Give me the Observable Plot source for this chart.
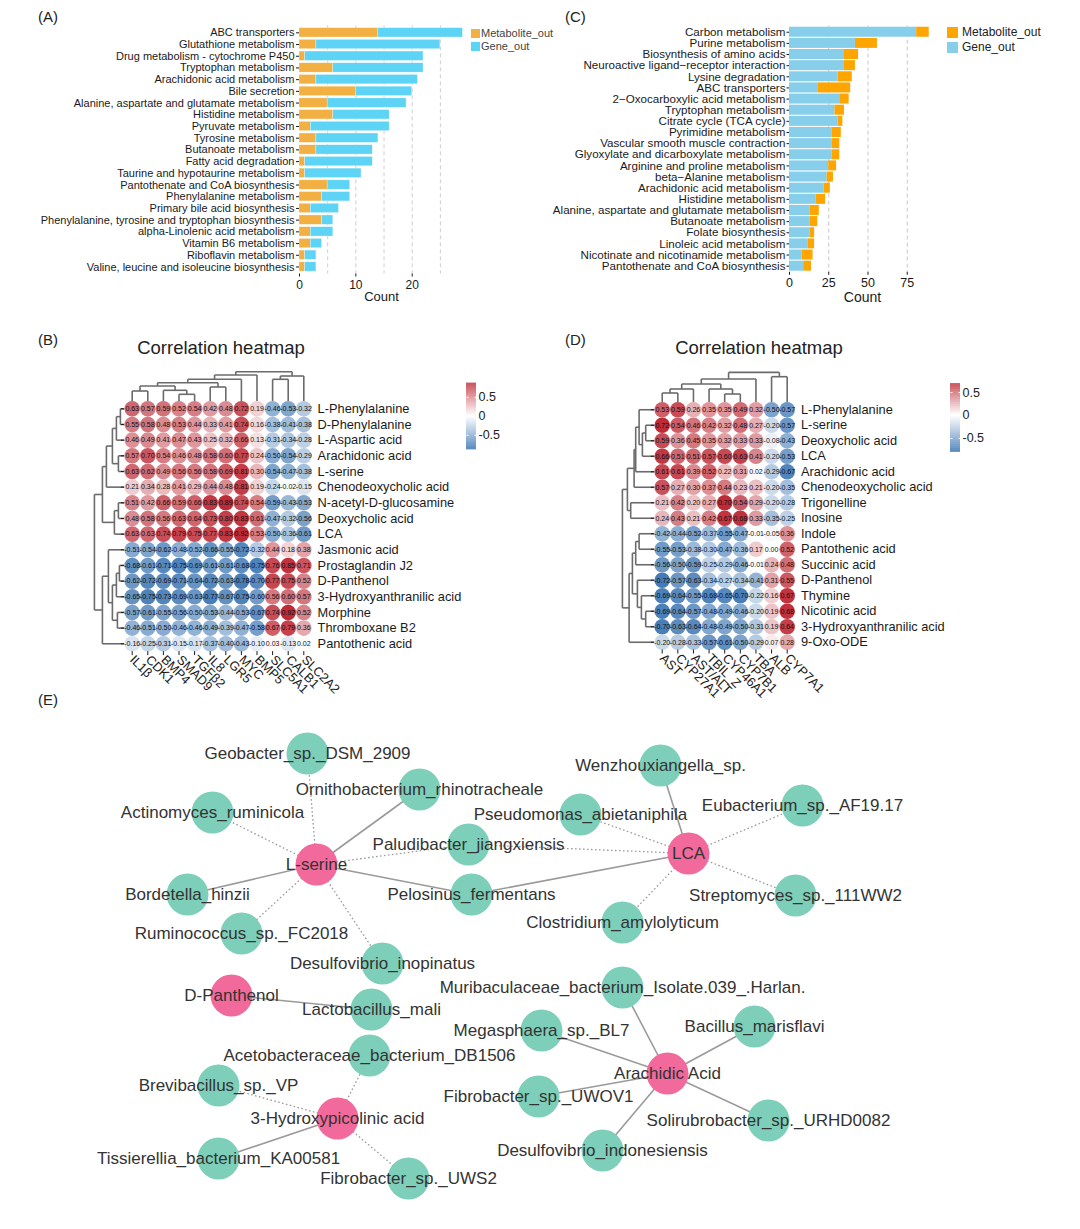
<!DOCTYPE html>
<html><head><meta charset="utf-8">
<script src="https://cdn.jsdelivr.net/npm/d3@7"></script>
<script src="https://cdn.jsdelivr.net/npm/@observablehq/plot@0.6"></script>
<style>
body{margin:0;background:#fff;font-family:"Liberation Sans",Arial,sans-serif;}
#page{position:relative;width:1080px;height:1229px;overflow:hidden;background:#fff;}
.t{position:absolute;white-space:nowrap;color:#222;line-height:1;}
.sw{position:absolute;}
</style></head><body><div id="page"></div>
<script>
// ================= DATA =================
// Panel A
const pathwaysA = ["ABC transporters","Glutathione metabolism","Drug metabolism - cytochrome P450","Tryptophan metabolism","Arachidonic acid metabolism","Bile secretion","Alanine, aspartate and glutamate metabolism","Histidine metabolism","Pyruvate metabolism","Tyrosine metabolism","Butanoate metabolism","Fatty acid degradation","Taurine and hypotaurine metabolism","Pantothenate and CoA biosynthesis","Phenylalanine metabolism","Primary bile acid biosynthesis","Phenylalanine, tyrosine and tryptophan biosynthesis","alpha-Linolenic acid metabolism","Vitamin B6 metabolism","Riboflavin metabolism","Valine, leucine and isoleucine biosynthesis"];
const metaboliteA = [14,3,1,6,3,10,5,6,2,3,3,1,1,5,4,2,4,2,2,1,1];
const geneA       = [15,22,21,16,18,10,14,10,14,11,10,12,10,4,5,5,2,4,2,2,2];
const seriesA = ["Metabolite_out","Gene_out"];
const coloursA = ["#F2B042","#5DD4F6"];

// Panel C
const pathwaysC = ["Carbon metabolism","Purine metabolism","Biosynthesis of amino acids","Neuroactive ligand\u2212receptor interaction","Lysine degradation","ABC transporters","2\u2212Oxocarboxylic acid metabolism","Tryptophan metabolism","Citrate cycle (TCA cycle)","Pyrimidine metabolism","Vascular smooth muscle contraction","Glyoxylate and dicarboxylate metabolism","Arginine and proline metabolism","beta\u2212Alanine metabolism","Arachidonic acid metabolism","Histidine metabolism","Alanine, aspartate and glutamate metabolism","Butanoate metabolism","Folate biosynthesis","Linoleic acid metabolism","Nicotinate and nicotinamide metabolism","Pantothenate and CoA biosynthesis"];
const geneC       = [81,42,35,35,31,18,32,29,31,27,27,27,25,24,22,17,13,13,13,12,8,9];
const metaboliteC = [8,14,9,7,9,21,6,6,3,6,5,5,5,4,4,6,6,5,3,4,7,5];
const seriesC = ["Metabolite_out","Gene_out"];
const coloursC = ["#FFA500","#87CEEB"];

// Panel B heatmap
const rowsB = ["L-Phenylalanine","D-Phenylalanine","L-Aspartic acid","Arachidonic acid","L-serine","Chenodeoxycholic acid","N-acetyl-D-glucosamine","Deoxycholic acid","LCA","Jasmonic acid","Prostaglandin J2","D-Panthenol","3-Hydroxyanthranilic acid","Morphine","Thromboxane B2","Pantothenic acid"];
const colsB = ["IL1\u03b2","CDK1","BMP4","SMAD9","TGF\u03b22","IL8","LGR5","MYC","BMP5","SLC5A1","CALB1","SLC2A2"];
const corrB = [
 [0.63,0.57,0.59,0.52,0.54,0.42,0.48,0.72,0.19,-0.46,-0.53,-0.32],
 [0.55,0.58,0.48,0.53,0.44,0.33,0.41,0.74,0.16,-0.38,-0.41,-0.38],
 [0.46,0.49,0.41,0.47,0.43,0.25,0.32,0.66,0.13,-0.31,-0.34,-0.28],
 [0.57,0.70,0.54,0.46,0.48,0.58,0.60,0.77,0.24,-0.50,-0.54,-0.29],
 [0.63,0.62,0.49,0.56,0.56,0.58,0.69,0.81,0.30,-0.54,-0.47,-0.38],
 [0.21,0.34,0.28,0.41,0.29,0.44,0.48,0.81,0.19,-0.24,-0.02,-0.15],
 [0.51,0.42,0.66,0.59,0.66,0.83,0.89,0.74,0.54,-0.59,-0.43,-0.53],
 [0.48,0.58,0.56,0.63,0.64,0.73,0.80,0.83,0.61,-0.47,-0.32,-0.56],
 [0.63,0.63,0.74,0.79,0.75,0.77,0.83,0.92,0.53,-0.50,-0.36,-0.61],
 [-0.51,-0.54,-0.62,-0.48,-0.52,-0.66,-0.55,-0.72,-0.32,0.44,0.18,0.38],
 [-0.68,-0.61,-0.71,-0.75,-0.69,-0.61,-0.61,-0.68,-0.75,0.76,0.85,0.71],
 [-0.62,-0.72,-0.69,-0.71,-0.64,-0.72,-0.63,-0.78,-0.70,0.77,0.75,0.52],
 [-0.65,-0.75,-0.73,-0.69,-0.63,-0.77,-0.67,-0.75,-0.60,0.56,0.60,0.57],
 [-0.57,-0.61,-0.55,-0.56,-0.50,-0.53,-0.44,-0.53,-0.67,0.74,0.92,0.52],
 [-0.46,-0.51,-0.50,-0.46,-0.46,-0.49,-0.39,-0.47,-0.58,0.67,0.79,0.36],
 [-0.16,-0.25,-0.31,-0.15,-0.17,-0.37,-0.40,-0.43,-0.10,0.03,-0.13,0.02]
];
// dendrogram merges: [left, right, height]; "mK" = K-th merge
const colTreeB = [[0,1,10],[3,4,6.7],[2,"m1",10.7],["m0","m2",15],[5,6,14],["m3","m4",18.3],["m5",7,21.7],["m6",8,26],[9,10,21.7],["m8",11,25],["m7","m9",29.3]];
const rowTreeB = [[0,1,4],["m0",2,8],[3,4,6],["m1","m2",12],["m3",5,18],[6,7,6],["m5",8,10],["m4","m6",22],[10,11,5],["m8",12,8],[13,14,7],["m9","m10",12],[9,"m11",16],["m12",15,22],["m7","m13",30]];

// Panel D heatmap
const rowsD = ["L-Phenylalanine","L-serine","Deoxycholic acid","LCA","Arachidonic acid","Chenodeoxycholic acid","Trigonelline","Inosine","Indole","Pantothenic acid","Succinic acid","D-Panthenol","Thymine","Nicotinic acid","3-Hydroxyanthranilic acid","9-Oxo-ODE"];
const colsD = ["AST","CYP27A1","AST/ALT","TBIL_Z","CYP46A1","CYP7B1","TBA","ALB","CYP7A1"];
const corrD = [
 [0.53,0.59,0.26,0.35,0.35,0.49,0.32,-0.50,-0.57],
 [0.72,0.54,0.46,0.42,0.32,0.48,0.27,-0.20,-0.57],
 [0.59,0.36,0.45,0.35,0.32,0.33,0.33,-0.08,-0.43],
 [0.66,0.51,0.51,0.57,0.60,0.63,0.41,-0.20,-0.53],
 [0.61,0.61,0.39,0.52,0.22,0.31,0.02,-0.29,-0.67],
 [0.57,0.27,0.30,0.37,0.44,0.23,0.21,-0.20,-0.35],
 [0.21,0.42,0.20,0.27,0.70,0.54,0.29,-0.20,-0.28],
 [0.24,0.43,0.21,0.42,0.67,0.68,0.33,-0.35,-0.25],
 [-0.42,-0.44,-0.52,-0.37,-0.55,-0.47,-0.01,-0.05,0.36],
 [-0.55,-0.53,-0.38,-0.30,-0.47,-0.36,0.17,0.00,0.52],
 [-0.56,-0.50,-0.59,-0.25,-0.29,-0.46,-0.01,0.24,0.48],
 [-0.72,-0.57,-0.63,-0.34,-0.27,-0.34,-0.41,0.31,0.55],
 [-0.69,-0.64,-0.55,-0.68,-0.65,-0.70,-0.22,0.16,0.67],
 [-0.69,-0.64,-0.57,-0.48,-0.49,-0.46,-0.20,0.19,0.68],
 [-0.70,-0.63,-0.64,-0.48,-0.49,-0.50,-0.31,0.19,0.64],
 [-0.20,-0.28,-0.33,-0.57,-0.61,-0.50,-0.29,0.07,0.28]
];
const colTreeD = [[0,1,9],["m0",2,13],[4,5,8],[3,"m2",13],["m1","m3",18],["m4",6,23],[7,8,25.3],["m5","m6",29.6]];
const rowTreeD = [[1,2,8.7],["m0",3,12],[0,"m1",15.3],["m2",4,18.7],["m3",5,20.3],[6,7,23.7],["m4","m5",27],[8,9,15.3],["m7",10,18.7],[13,14,8.7],[12,"m9",13],[11,"m10",17],["m8","m11",22],["m12",15,25.3],["m6","m13",32]];

// Panel E network (layout coordinates)
const nodeName = ["L-serine","Geobacter_sp._DSM_2909","Ornithobacterium_rhinotracheale","Actinomyces_ruminicola","Paludibacter_jiangxiensis","Bordetella_hinzii","Pelosinus_fermentans","Ruminococcus_sp._FC2018","Desulfovibrio_inopinatus","LCA","Wenzhouxiangella_sp.","Pseudomonas_abietaniphila","Eubacterium_sp._AF19.17","Streptomyces_sp._111WW2","Clostridium_amylolyticum","D-Panthenol","Lactobacillus_mali","3-Hydroxypicolinic acid","Acetobacteraceae_bacterium_DB1506","Brevibacillus_sp._VP","Tissierellia_bacterium_KA00581","Fibrobacter_sp._UWS2","Arachidic Acid","Muribaculaceae_bacterium_Isolate.039_.Harlan.","Megasphaera_sp._BL7","Bacillus_marisflavi","Fibrobacter_sp._UWOV1","Solirubrobacter_sp._URHD0082","Desulfovibrio_indonesiensis"];
const nodeKind = ["metabolite","microbe","microbe","microbe","microbe","microbe","microbe","microbe","microbe","metabolite","microbe","microbe","microbe","microbe","microbe","metabolite","microbe","metabolite","microbe","microbe","microbe","microbe","metabolite","microbe","microbe","microbe","microbe","microbe","microbe"];
const nodeX = [316,307,419,212,468,187,471,241,382,688,660,580,802,795,622,231,371,337,369,218,218,408,667,622,541,754,538,768,602];
const nodeY = [864,753,789,812,844,894,894,933,963,853,765,814,805,895,922,995,1009,1118,1055,1085,1158,1178,1073,987,1030,1026,1096,1120,1150];
const edgeFrom = ["L-serine","L-serine","L-serine","L-serine","L-serine","L-serine","L-serine","L-serine","LCA","LCA","LCA","LCA","LCA","LCA","LCA","D-Panthenol","3-Hydroxypicolinic acid","3-Hydroxypicolinic acid","3-Hydroxypicolinic acid","3-Hydroxypicolinic acid","Arachidic Acid","Arachidic Acid","Arachidic Acid","Arachidic Acid","Arachidic Acid","Arachidic Acid"];
const edgeTo = ["Geobacter_sp._DSM_2909","Ornithobacterium_rhinotracheale","Actinomyces_ruminicola","Paludibacter_jiangxiensis","Bordetella_hinzii","Pelosinus_fermentans","Ruminococcus_sp._FC2018","Desulfovibrio_inopinatus","Wenzhouxiangella_sp.","Pseudomonas_abietaniphila","Eubacterium_sp._AF19.17","Paludibacter_jiangxiensis","Pelosinus_fermentans","Streptomyces_sp._111WW2","Clostridium_amylolyticum","Lactobacillus_mali","Acetobacteraceae_bacterium_DB1506","Brevibacillus_sp._VP","Tissierellia_bacterium_KA00581","Fibrobacter_sp._UWS2","Muribaculaceae_bacterium_Isolate.039_.Harlan.","Megasphaera_sp._BL7","Bacillus_marisflavi","Fibrobacter_sp._UWOV1","Solirubrobacter_sp._URHD0082","Desulfovibrio_indonesiensis"];
const edgeSign = ["neg","pos","neg","neg","pos","pos","neg","neg","pos","neg","neg","neg","pos","neg","neg","pos","neg","neg","pos","neg","pos","pos","pos","pos","pos","pos"];

// ================= DRAWING =================
const W = 1080, H = 1229;
const page = document.getElementById("page");
const FONT = "'Liberation Sans', Arial, Helvetica, sans-serif";
const baseStyle = `position:absolute;left:0;top:0;background:transparent;font-family:${FONT};color:#1a1a1a;overflow:visible;`;
function add(svg){ page.appendChild(svg); }
function text(str, x, y, size, opts={}) {
  const d = document.createElement("div");
  d.className = "t"; d.textContent = str;
  d.style.fontSize = size + "px"; d.style.top = y + "px";
  d.style.left = x + "px";
  if (opts.center) d.style.transform = "translateX(-50%)";
  if (opts.color) d.style.color = opts.color;
  page.appendChild(d);
}
function swatch(x, y, w, h, c) {
  const d = document.createElement("div");
  d.className = "sw"; Object.assign(d.style, {left:x+"px", top:y+"px", width:w+"px", height:h+"px", background:c});
  page.appendChild(d);
}

// ---- Panel A ----
const dataA = pathwaysA.flatMap((p,i)=>[{p, s:seriesA[0], n:metaboliteA[i]},{p, s:seriesA[1], n:geneA[i]}]);
add(Plot.plot({
  width:W, height:H, style: baseStyle,
  marginLeft:299, marginRight:W-463, marginTop:25.3, marginBottom:H-273.5,
  x:{domain:[0,29.1]},
  y:{domain:pathwaysA, padding:0.2, round:false},
  color:{domain:seriesA, range:coloursA},
  marks:[
    Plot.ruleX([5,10,15,20,25], {stroke:"#cfcfcf", strokeDasharray:"4,3"}),
    Plot.barX(dataA, {y:"p", x:"n", fill:"s", order:seriesA, stroke:"#ffffff", strokeOpacity:0.6, strokeWidth:0.5}),
    Plot.axisY({tickSize:3, tickPadding:2, fontSize:11, label:null, line:true}),
    Plot.axisX({ticks:[0,10,20], tickSize:3, tickPadding:3, fontSize:12, label:null, line:true}),
    Plot.text(["Count"], {text:d=>d, frameAnchor:"bottom", dy:27, fontSize:13})
  ]
}));
swatch(471,28.5,9,9.5,coloursA[0]); swatch(471,41.5,9,9.5,coloursA[1]);
text("Metabolite_out",481,28,11,{color:"#444"}); text("Gene_out",481,41,11,{color:"#444"});

// ---- Panel C ----
const dataC = pathwaysC.flatMap((p,i)=>[{p, s:"Gene_out", n:geneC[i]},{p, s:"Metabolite_out", n:metaboliteC[i]}]);
add(Plot.plot({
  width:W, height:H, style: baseStyle,
  marginLeft:789, marginRight:W-935, marginTop:25.6, marginBottom:H-271.8,
  x:{domain:[0,93]},
  y:{domain:pathwaysC, padding:0.1, round:false},
  color:{domain:seriesC, range:coloursC},
  marks:[
    Plot.ruleX([25,50,75], {stroke:"#c8c8c8", strokeDasharray:"4,3"}),
    Plot.barX(dataC, {y:"p", x:"n", fill:"s", order:["Gene_out","Metabolite_out"]}),
    Plot.axisY({tickSize:2.5, tickPadding:1.5, fontSize:11.6, label:null, line:true}),
    Plot.axisX({ticks:[0,25,50,75], tickSize:3, tickPadding:3, fontSize:12.5, label:null, line:true}),
    Plot.text(["Count"], {text:d=>d, frameAnchor:"bottom", dy:29.5, fontSize:14})
  ]
}));
swatch(946.5,26.5,11.5,11.5,coloursC[0]); swatch(946.5,41.5,11.5,11.5,coloursC[1]);
text("Metabolite_out",962,26,12); text("Gene_out",962,41,12);

// ---- Heatmaps ----
const BLUE = "#2F6CAE", WHITE = "#FFFFFF", RED = "#BE2B37";
function dendroSegments(merges) {
  const pos = [], hgt = [], segs = [];
  const get = c => typeof c === "number" ? [c, 0] : [pos[+c.slice(1)], hgt[+c.slice(1)]];
  merges.forEach(([a,b,h],k) => {
    const [pa,ha] = get(a), [pb,hb] = get(b);
    segs.push({p1:pa,h1:ha,p2:pa,h2:h},{p1:pb,h1:hb,p2:pb,h2:h},{p1:pa,h1:h,p2:pb,h2:h});
    pos[k] = (pa+pb)/2; hgt[k] = h;
  });
  return segs;
}
function heatmap({rows, cols, mat, rowTree, colTree, x0, x1, y0, y1, lo, hi}) {
  const nR = rows.length, nC = cols.length;
  const sx = (x1-x0)/nC, sy = (y1-y0)/nR;
  const cells = mat.flatMap((r,i)=>r.map((v,j)=>({i,j,v})));
  const cs = dendroSegments(colTree).map(s=>({x1:s.p1,x2:s.p2,y1:-0.5-s.h1/sy,y2:-0.5-s.h2/sy}));
  const rs = dendroSegments(rowTree).map(s=>({y1:s.p1,y2:s.p2,x1:-0.5-s.h1/sx,x2:-0.5-s.h2/sx}));
  return Plot.plot({
    width:W, height:H, style:baseStyle,
    marginLeft:x0, marginRight:W-x1, marginTop:y0, marginBottom:H-y1,
    x:{domain:[-0.5,nC-0.5]}, y:{domain:[-0.5,nR-0.5], reverse:true},
    color:{type:"linear", domain:[lo,0,hi], range:[BLUE,WHITE,RED], clamp:true},
    marks:[
      Plot.link(cs,{x1:"x1",y1:"y1",x2:"x2",y2:"y2",stroke:"#6b6b6b",strokeWidth:1.6}),
      Plot.link(rs,{x1:"x1",y1:"y1",x2:"x2",y2:"y2",stroke:"#6b6b6b",strokeWidth:1.6}),
      Plot.dot(cells,{x:"j",y:"i",r:7.8,fill:"v"}),
      Plot.text(cells,{x:"j",y:"i",text:d=>d.v.toFixed(2),fontSize:7,fill:"#111"}),
      Plot.axisY({anchor:"right", ticks:d3.range(nR), tickFormat:i=>rows[i], tickSize:0, tickPadding:6, fontSize:12.8, label:null}),
      Plot.axisY({anchor:"left", ticks:d3.range(nR), tickFormat:()=>"", tickSize:3, label:null}),
      Plot.axisX({anchor:"bottom", ticks:d3.range(nC), tickFormat:j=>cols[j], tickSize:4, tickPadding:2, tickRotate:45, fontSize:12.8, label:null})
    ]
  });
}
function colorbar({x0, x1, y0, y1, lo, hi, ticks}) {
  const n = 100, step = (hi-lo)/n;
  const slices = d3.range(n).map(k => lo + k*step);
  return Plot.plot({
    width:W, height:H, style:baseStyle,
    marginLeft:x0, marginRight:W-x1, marginTop:y0, marginBottom:H-y1,
    x:{domain:[0,1], axis:null}, y:{domain:[lo,hi], axis:null},
    color:{type:"linear", domain:[lo,0,hi], range:[BLUE,WHITE,RED], clamp:true},
    marks:[
      Plot.rect(slices,{x1:0,x2:1,y1:d=>d,y2:d=>d+step*1.05,fill:d=>d+step/2}),
      Plot.link(ticks,{x1:0,x2:0.2,y1:d=>d,y2:d=>d,stroke:"#fff",strokeWidth:1}),
      Plot.link(ticks,{x1:0.8,x2:1,y1:d=>d,y2:d=>d,stroke:"#fff",strokeWidth:1}),
      Plot.text(ticks,{x:1,y:d=>d,text:d=>String(d),dx:2,textAnchor:"start",fontSize:12.5,fill:"#222"})
    ]
  });
}

add(heatmap({rows:rowsB, cols:colsB, mat:corrB, rowTree:rowTreeB, colTree:colTreeB, x0:123.9, x1:311.1, y0:400.5, y1:651.1, lo:-0.88, hi:0.88}));
add(colorbar({x0:466, x1:476, y0:382.7, y1:449.3, lo:-0.88, hi:0.87, ticks:[-0.5,0,0.5]}));
add(heatmap({rows:rowsD, cols:colsD, mat:corrD, rowTree:rowTreeD, colTree:colTreeD, x0:653.9, x1:794.5, y0:401.5, y1:649.5, lo:-0.8, hi:0.7}));
add(colorbar({x0:950, x1:960, y0:383.3, y1:451.7, lo:-0.8, hi:0.69, ticks:[-0.5,0,0.5]}));

// ---- Panel E network ----
const nodes = nodeName.map((name,i)=>({name, kind:nodeKind[i], x:nodeX[i], y:nodeY[i]}));
const byName = new Map(nodes.map(n=>[n.name,n]));
const edges = edgeFrom.map((f,i)=>({a:byName.get(f), b:byName.get(edgeTo[i]), sign:edgeSign[i]}));
add(Plot.plot({
  width:W, height:H, style:baseStyle,
  marginLeft:0, marginRight:0, marginTop:0, marginBottom:0,
  x:{domain:[0,W], axis:null}, y:{domain:[0,H], reverse:true, axis:null},
  marks:[
    Plot.link(edges.filter(e=>e.sign==="pos"),{x1:d=>d.a.x,y1:d=>d.a.y,x2:d=>d.b.x,y2:d=>d.b.y,stroke:"#9a9a9a",strokeWidth:1.6}),
    Plot.link(edges.filter(e=>e.sign==="neg"),{x1:d=>d.a.x,y1:d=>d.a.y,x2:d=>d.b.x,y2:d=>d.b.y,stroke:"#9a9a9a",strokeWidth:1.3,strokeDasharray:"1.6,2.4"}),
    Plot.dot(nodes,{x:"x",y:"y",r:21,fill:d=>d.kind==="metabolite"?"#F2699B":"#7ECFB9"}),
    Plot.text(nodes,{x:"x",y:"y",text:"name",fontSize:17,fill:"#333"})
  ]
}));

// ---- Panel letters & titles ----
text("(A)",38,9,15); text("(C)",565,9,15); text("(B)",38,332,15); text("(D)",565,332,15); text("(E)",38,692,15);
text("Correlation heatmap",221,339,18.5,{center:true});
text("Correlation heatmap",759,339,18.5,{center:true});
</script></body></html>
